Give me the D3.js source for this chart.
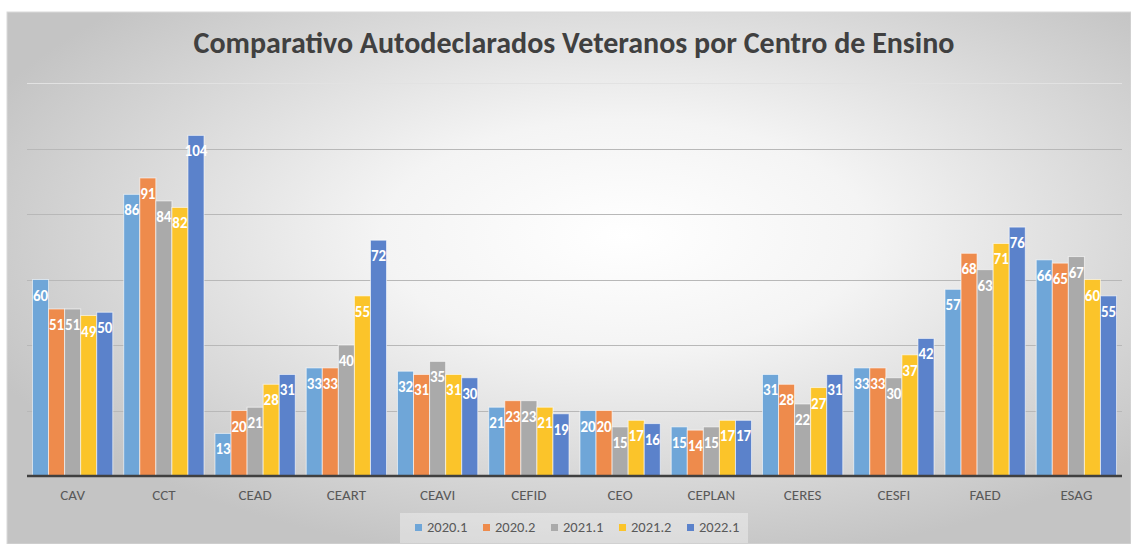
<!DOCTYPE html>
<html>
<head>
<meta charset="utf-8">
<script src="https://cdn.jsdelivr.net/npm/d3@7"></script>
<style>
  html, body { margin: 0; padding: 0; background: #ffffff; }
  svg { display: block; }
</style>
</head>
<body>
<svg id="chart"></svg>
<script>
// categories (centros de ensino)
const centros = ["CAV", "CCT", "CEAD", "CEART", "CEAVI", "CEFID", "CEO", "CEPLAN", "CERES", "CESFI", "FAED", "ESAG"];
// semesters
const semestres = ["2020.1", "2020.2", "2021.1", "2021.2", "2022.1"];
// values per semester, in the order of centros
const v20201 = [60, 86, 13, 33, 32, 21, 20, 15, 31, 33, 57, 66];
const v20202 = [51, 91, 20, 33, 31, 23, 20, 14, 28, 33, 68, 65];
const v20211 = [51, 84, 21, 40, 35, 23, 15, 15, 22, 30, 63, 67];
const v20212 = [49, 82, 28, 55, 31, 21, 17, 17, 27, 37, 71, 60];
const v20221 = [50, 104, 31, 72, 30, 19, 16, 17, 31, 42, 76, 55];
const yTicks = [0, 20, 40, 60, 80, 100, 120];

const series = [v20201, v20202, v20211, v20212, v20221];
const colors = ["#6fa6d8", "#ee8b4c", "#aaaaaa", "#fbc42a", "#5b82cb"];

const width = 1131;
const height = 544;
const font = "Calibri, Carlito, 'Open Sans', sans-serif";

const svg = d3.select("#chart")
  .attr("width", width)
  .attr("height", height);

// background radial gradient like the Excel style
const defs = svg.append("defs");
const grad = defs.append("radialGradient")
  .attr("id", "bg")
  .attr("cx", "55%")
  .attr("cy", "42%")
  .attr("r", "62%");
grad.append("stop").attr("offset", "0%").attr("stop-color", "#ffffff");
grad.append("stop").attr("offset", "35%").attr("stop-color", "#f4f4f4");
grad.append("stop").attr("offset", "100%").attr("stop-color", "#c4c4c4");

svg.append("rect")
  .attr("x", 7)
  .attr("y", 12)
  .attr("width", width - 7)
  .attr("height", height - 12)
  .attr("fill", "url(#bg)")
  .attr("stroke", "#d9d9d9")
  .attr("stroke-width", 1);

// title
svg.append("text")
  .attr("x", 574)
  .attr("y", 53)
  .attr("text-anchor", "middle")
  .attr("font-family", font)
  .attr("font-weight", "bold")
  .attr("font-size", 30)
  .attr("fill", "#404040")
  .text("Comparativo Autodeclarados Veteranos por Centro de Ensino");

// scales
const plotLeft = 27, plotRight = 1122, plotTop = 83, plotBottom = 476;

const x0 = d3.scaleBand()
  .domain(centros)
  .range([plotLeft, plotRight])
  .paddingInner(0.12)
  .paddingOuter(0.06);

const x1 = d3.scaleBand()
  .domain(semestres)
  .range([0, x0.bandwidth()])
  .padding(0);

const y = d3.scaleLinear()
  .domain([0, 120])
  .range([plotBottom, plotTop]);

// gridlines
svg.append("g")
  .selectAll("line")
  .data(yTicks.slice(1))
  .enter()
  .append("line")
  .attr("x1", plotLeft)
  .attr("x2", plotRight)
  .attr("y1", d => Math.round(y(d)) + 0.5)
  .attr("y2", d => Math.round(y(d)) + 0.5)
  .attr("stroke", d => d === 120 ? "#e2e2e2" : "#b8b8b8")
  .attr("stroke-width", 1);

// bars
const groups = svg.append("g")
  .selectAll("g")
  .data(centros)
  .enter()
  .append("g")
  .attr("transform", d => `translate(${x0(d)},0)`);

groups.selectAll("rect")
  .data((c, i) => semestres.map((s, j) => ({ s, j, v: series[j][i] })))
  .enter()
  .append("rect")
  .attr("x", d => x1(d.s))
  .attr("y", d => y(d.v))
  .attr("width", x1.bandwidth())
  .attr("height", d => y(0) - y(d.v))
  .attr("fill", d => colors[d.j])
  .attr("stroke", "rgba(255,255,255,0.6)")
  .attr("stroke-width", 1);

// data labels
groups.selectAll("text")
  .data((c, i) => semestres.map((s, j) => ({ s, j, v: series[j][i] })))
  .enter()
  .append("text")
  .attr("x", d => x1(d.s) + x1.bandwidth() / 2)
  .attr("y", d => y(d.v) + 21)
  .attr("text-anchor", "middle")
  .attr("font-family", font)
  .attr("font-weight", "bold")
  .attr("font-size", 15)
  .attr("fill", "#ffffff")
  .text(d => d.v);

// x axis baseline
svg.append("line")
  .attr("x1", plotLeft)
  .attr("x2", plotRight)
  .attr("y1", plotBottom)
  .attr("y2", plotBottom)
  .attr("stroke", "#404040")
  .attr("stroke-width", 2.5);

const xAxis = d3.axisBottom(x0).tickSize(0).tickPadding(0);
const gx = svg.append("g")
  .attr("transform", `translate(0, ${plotBottom})`)
  .call(xAxis);
gx.select(".domain").remove();
gx.selectAll("text")
  .attr("dy", 0)
  .attr("y", 24)
  .attr("font-family", font)
  .attr("font-size", 15)
  .attr("fill", "#595959");

// legend
const legend = svg.append("g")
  .attr("transform", "translate(415, 0)");

legend.append("rect")
  .attr("x", -15)
  .attr("y", 513)
  .attr("width", 348)
  .attr("height", 30)
  .attr("fill", "rgba(255,255,255,0.35)");

const items = legend.selectAll("g")
  .data(semestres)
  .enter()
  .append("g")
  .attr("transform", (d, i) => `translate(${i * 68}, 0)`);

items.append("rect")
  .attr("x", 0)
  .attr("y", 524)
  .attr("width", 7)
  .attr("height", 7)
  .attr("fill", (d, i) => colors[i]);

items.append("text")
  .attr("x", 12)
  .attr("y", 532)
  .attr("font-family", font)
  .attr("font-size", 14.5)
  .attr("fill", "#595959")
  .text(d => d);
</script>
</body>
</html>
